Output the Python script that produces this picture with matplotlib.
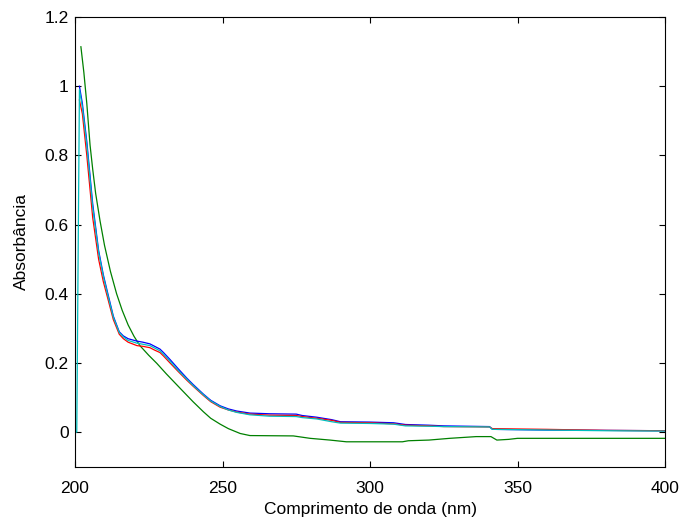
import matplotlib
matplotlib.use("Agg")
import matplotlib.pyplot as plt
from matplotlib.ticker import FormatStrFormatter

plt.rcParams['font.family'] = ['Liberation Sans', 'DejaVu Sans']

# Wavelength grid (nm) shared by blue/red/cyan spectra
wl_main = [201.5, 202.5, 204, 206, 208, 209.6, 211, 213, 215, 216.4, 218, 221, 223,
           225.4, 227, 228.8, 230, 232.2, 235, 237.9, 240, 243.5, 246, 249.2, 252,
           254.8, 259.3, 266, 275, 277, 282, 287, 290, 300, 308, 312, 320, 325,
           340.5, 341.5, 360, 380, 400]

blue = [1.0, 0.95, 0.84, 0.66, 0.525, 0.455, 0.405, 0.335, 0.29, 0.278, 0.27, 0.263, 0.26,
        0.255, 0.248, 0.24, 0.23, 0.21, 0.183, 0.156, 0.138, 0.11, 0.092, 0.076, 0.067,
        0.061, 0.055, 0.053, 0.052, 0.048, 0.043, 0.036, 0.03, 0.029, 0.027, 0.022,
        0.02, 0.018, 0.016, 0.008, 0.006, 0.005, 0.004]

red = [0.96, 0.92, 0.80, 0.62, 0.50, 0.435, 0.39, 0.325, 0.283, 0.27, 0.26, 0.25, 0.248,
       0.244, 0.237, 0.23, 0.22, 0.2, 0.175, 0.15, 0.133, 0.106, 0.088, 0.072, 0.064,
       0.058, 0.052, 0.049, 0.048, 0.045, 0.04, 0.034, 0.028, 0.027, 0.024, 0.02,
       0.018, 0.016, 0.015, 0.01, 0.008, 0.005, 0.004]

wl_cyan = [200.0, 200.6] + wl_main
cyan = [0.0, 0.0, 0.99, 0.94, 0.83, 0.65, 0.52, 0.45, 0.40, 0.332, 0.288, 0.275, 0.265,
        0.257, 0.254, 0.25, 0.243, 0.235, 0.225, 0.205, 0.178, 0.153, 0.135, 0.108, 0.09,
        0.074, 0.064, 0.057, 0.05, 0.046, 0.045, 0.042, 0.038, 0.03, 0.026, 0.025, 0.023,
        0.018, 0.017, 0.016, 0.015, 0.008, 0.006, 0.004, 0.003]

wl_green = [202, 203, 204, 205.1, 206, 207, 208.5, 210, 212, 214.1, 216, 218, 220, 222,
            225, 227.7, 231, 235.6, 240, 243.5, 246, 249.2, 252, 256, 259.3, 274, 279.7,
            286.4, 292, 311, 313, 320, 327, 336, 341, 343, 347, 350, 352, 400]
green = [1.114, 1.04, 0.95, 0.83, 0.76, 0.69, 0.61, 0.54, 0.465, 0.40, 0.352, 0.31,
         0.277, 0.25, 0.222, 0.199, 0.168, 0.127, 0.088, 0.059, 0.04, 0.023, 0.01,
         -0.004, -0.01, -0.011, -0.018, -0.023, -0.028, -0.028, -0.025, -0.023, -0.018,
         -0.013, -0.013, -0.023, -0.021, -0.018, -0.018, -0.018]

x_ticks = [200, 250, 300, 350, 400]
y_ticks = [0, 0.2, 0.4, 0.6, 0.8, 1, 1.2]

fig = plt.figure(figsize=(6.84, 5.18), dpi=100)
ax = fig.add_axes([75/684, 1 - 466.7/518, 590/684, (466.7 - 17)/518])

lw = 0.9
ax.plot(wl_green, green, color='#008000', lw=lw)
ax.plot(wl_main, blue, color='#0000ff', lw=lw)
ax.plot(wl_main, red, color='#ff0000', lw=lw)
ax.plot(wl_cyan, cyan, color='#00bfbf', lw=lw)

ax.set_xlim(200, 400)
ax.set_ylim(-0.1, 1.2)
ax.set_xticks(x_ticks)
ax.set_yticks(y_ticks)
ax.yaxis.set_major_formatter(FormatStrFormatter('%g'))
ax.tick_params(direction='in', top=True, right=True, length=4.5, width=0.8,
               labelsize=12.5)
ax.tick_params(axis='x', pad=10.5)
ax.tick_params(axis='y', pad=4.5)
for s in ax.spines.values():
    s.set_linewidth(0.8)

ax.set_xlabel('Comprimento de onda (nm)', fontsize=12.5, labelpad=4)
ax.set_ylabel('Absorbância', fontsize=12.5, labelpad=11)

fig.savefig('out.png', dpi=100)
